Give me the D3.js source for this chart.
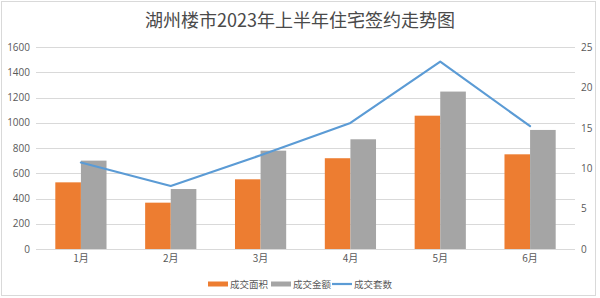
<!DOCTYPE html>
<html><head><meta charset="utf-8">
<script src="https://cdn.jsdelivr.net/npm/d3@7/dist/d3.min.js"></script>
<style>
html,body{margin:0;padding:0;background:#fff;}
svg{display:block;}
text{font-family:"Noto Sans CJK SC","Noto Sans",sans-serif;}
</style></head>
<body>
<svg id="chart" width="600" height="298"></svg>
<script>
const title = "湖州楼市2023年上半年住宅签约走势图";
const categories = ["1月","2月","3月","4月","5月","6月"];
const areaValues = [528, 367, 552, 719, 1056, 750];      // 成交面积
const amountValues = [700, 475, 779, 869, 1247, 943];    // 成交金额
const countValues = [10.7, 7.8, 11.6, 15.6, 23.2, 15.2]; // 成交套数
const leftTicks = [0,200,400,600,800,1000,1200,1400,1600];
const rightTicks = [0,5,10,15,20,25];
const seriesNames = ["成交面积","成交金额","成交套数"];
const colors = ["#ed7d31","#a5a5a5","#5b9bd5"];

const svg = d3.select("#chart");
const W = 600, H = 298;
const m = {left:36, right:25, top:47, bottom:49};
const plotL = m.left, plotR = W - m.right, plotT = m.top, plotB = H - m.bottom;

// border
svg.append("rect").attr("x",1.5).attr("y",1.5).attr("width",594).attr("height",294)
  .attr("fill","none").attr("stroke","#d9d9d9").attr("stroke-width",1);

// title
svg.append("text").attr("x",300).attr("y",27).attr("text-anchor","middle")
  .attr("font-size",18).attr("fill","#4a4a4a").text(title);

const x = d3.scaleBand().domain(categories).range([plotL, plotR]).padding(0);
const bw = x.bandwidth();
const xs = d3.scaleBand().domain([0,1]).range([bw*0.215, bw*0.785]).padding(0);
const yL = d3.scaleLinear().domain([0,1600]).range([plotB, plotT]);
const yR = d3.scaleLinear().domain([0,25]).range([plotB, plotT]);

// gridlines
svg.append("g").selectAll("line").data(leftTicks).join("line")
  .attr("x1",plotL).attr("x2",plotR)
  .attr("y1",d=>Math.round(yL(d))+0.5).attr("y2",d=>Math.round(yL(d))+0.5)
  .attr("stroke","#d9d9d9").attr("stroke-width",1);

// left axis labels
const axL = d3.axisLeft(yL).tickValues(leftTicks).tickFormat(d3.format("d")).tickSize(0).tickPadding(6);
const gL = svg.append("g").attr("transform",`translate(${plotL},0)`).call(axL);
gL.select(".domain").remove();
gL.selectAll("text").attr("fill","#595959").attr("font-size",10).style("font-family","'Open Sans','Noto Sans',sans-serif");

// right axis labels
const axR = d3.axisRight(yR).tickValues(rightTicks).tickFormat(d3.format("d")).tickSize(0).tickPadding(6);
const gR = svg.append("g").attr("transform",`translate(${plotR},0)`).call(axR);
gR.select(".domain").remove();
gR.selectAll("text").attr("fill","#595959").attr("font-size",10).style("font-family","'Open Sans','Noto Sans',sans-serif");

// x axis labels
const axX = d3.axisBottom(x).tickSize(0).tickPadding(6);
const gX = svg.append("g").attr("transform",`translate(0,${plotB})`).call(axX);
gX.select(".domain").remove();
gX.selectAll("text").attr("fill","#595959").attr("font-size",10);

// bars
const barSeries = [areaValues, amountValues];
barSeries.forEach((vals, si) => {
  svg.append("g").selectAll("rect").data(vals).join("rect")
    .attr("x",(d,i)=>x(categories[i]) + xs(si))
    .attr("width",xs.bandwidth())
    .attr("y",d=>yL(d))
    .attr("height",d=>yL(0)-yL(d))
    .attr("fill",colors[si]);
});

// line
const line = d3.line().x((d,i)=>x(categories[i]) + bw/2).y(d=>yR(d));
svg.append("path").datum(countValues).attr("d",line)
  .attr("fill","none").attr("stroke",colors[2]).attr("stroke-width",2.2)
  .attr("stroke-linejoin","round").attr("stroke-linecap","round");

// legend
const lg = svg.append("g");
const ly = 284;
const items = [
  {x:208, w:20, type:"rect"},
  {x:271, w:20, type:"rect"},
  {x:332, w:20, type:"line"}
];
items.forEach((it,i)=>{
  if(it.type==="rect"){
    lg.append("rect").attr("x",it.x).attr("y",ly-2.5).attr("width",it.w).attr("height",5).attr("fill",colors[i]);
  } else {
    lg.append("line").attr("x1",it.x).attr("x2",it.x+it.w).attr("y1",ly).attr("y2",ly)
      .attr("stroke",colors[i]).attr("stroke-width",2.2);
  }
  lg.append("text").attr("x",it.x+it.w+2).attr("y",ly+3.5).attr("font-size",9.5)
    .attr("fill","#595959").text(seriesNames[i]);
});
</script>
</body></html>
